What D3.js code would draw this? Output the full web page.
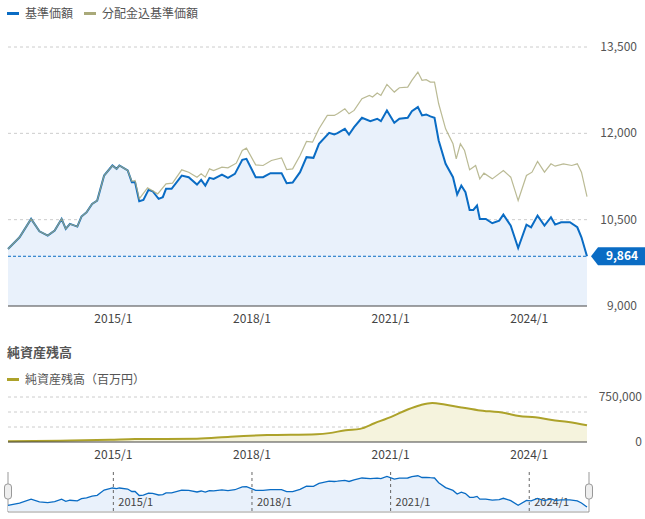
<!DOCTYPE html>
<html><head><meta charset="utf-8">
<script src="https://cdn.jsdelivr.net/npm/d3@7"></script>
<style>
body{margin:0;background:#fff;font-family:"Noto Sans CJK JP","Noto Sans",sans-serif;}
</style></head>
<body><svg id="chart" width="645" height="519"></svg>
<script>
// fund price (decimal year, yen)
const navYears = [2012.72,2012.97,2013.22,2013.40,2013.58,2013.73,2013.88,2013.97,2014.06,2014.22,2014.31,2014.42,2014.54,2014.65,2014.80,2014.98,2015.07,2015.13,2015.31,2015.40,2015.47,2015.56,2015.65,2015.76,2015.85,2015.98,2016.07,2016.14,2016.26,2016.48,2016.63,2016.81,2016.90,2016.99,2017.08,2017.17,2017.35,2017.48,2017.63,2017.79,2017.88,2018.08,2018.24,2018.40,2018.64,2018.75,2018.88,2019.04,2019.18,2019.33,2019.45,2019.67,2019.78,2019.85,2020.01,2020.10,2020.21,2020.38,2020.56,2020.71,2020.79,2020.92,2021.08,2021.19,2021.37,2021.46,2021.59,2021.68,2021.77,2021.86,2021.95,2022.04,2022.19,2022.35,2022.44,2022.53,2022.62,2022.71,2022.79,2022.87,2022.93,2023.06,2023.20,2023.35,2023.44,2023.60,2023.76,2023.94,2024.04,2024.18,2024.33,2024.47,2024.56,2024.69,2024.88,2025.04,2025.13,2025.25];
const navValues = [9991,10194,10513,10298,10223,10310,10513,10339,10426,10380,10554,10629,10774,10832,11267,11441,11383,11441,11354,11151,11151,10820,10844,11018,10994,10861,10890,11035,11035,11267,11238,11110,11192,11093,11226,11209,11284,11226,11296,11540,11557,11238,11238,11308,11308,11134,11145,11325,11586,11574,11818,12009,11980,12004,12079,11980,12108,12270,12212,12253,12212,12398,12183,12253,12270,12386,12456,12311,12328,12294,12270,11876,11470,11238,10936,11093,10977,10670,10670,10745,10513,10513,10438,10484,10588,10397,10008,10414,10368,10571,10397,10542,10414,10455,10455,10368,10194,9864];

// price incl. distributions
const totYears = [2012.72,2012.97,2013.22,2013.40,2013.58,2013.73,2013.88,2013.97,2014.06,2014.22,2014.31,2014.42,2014.54,2014.65,2014.80,2014.98,2015.07,2015.13,2015.31,2015.40,2015.47,2015.56,2015.74,2015.96,2016.14,2016.28,2016.48,2016.63,2016.81,2016.90,2016.99,2017.08,2017.17,2017.35,2017.48,2017.66,2017.79,2017.88,2018.08,2018.24,2018.42,2018.64,2018.75,2018.88,2019.04,2019.18,2019.31,2019.45,2019.63,2019.78,2019.85,2020.01,2020.10,2020.21,2020.38,2020.54,2020.61,2020.71,2020.79,2020.92,2021.08,2021.19,2021.37,2021.46,2021.59,2021.68,2021.77,2021.86,2021.95,2022.04,2022.19,2022.35,2022.42,2022.51,2022.60,2022.71,2022.84,2022.93,2023.02,2023.20,2023.44,2023.60,2023.76,2023.94,2024.06,2024.18,2024.33,2024.47,2024.56,2024.74,2024.92,2025.04,2025.13,2025.25];
const totValues = [9991,10194,10513,10298,10223,10310,10513,10339,10426,10380,10554,10629,10774,10832,11267,11441,11383,11441,11354,11165,11180,10861,11052,10948,11122,11134,11366,11325,11238,11296,11238,11383,11354,11412,11400,11482,11702,11743,11453,11441,11528,11574,11371,11383,11615,11859,11847,12079,12311,12311,12340,12427,12340,12398,12601,12659,12630,12700,12659,12850,12717,12792,12804,12920,13065,12920,12932,12891,12891,12514,12079,11818,11557,11818,11702,11366,11441,11209,11308,11209,11354,11238,10832,11267,11325,11511,11325,11470,11429,11470,11441,11470,11325,10902];

// net assets (million yen)
const assetYears = [2012.72,2013.86,2014.93,2015.47,2016.81,2017.53,2018.33,2019.40,2019.67,2020.03,2020.34,2020.65,2021.05,2021.37,2021.64,2021.90,2022.17,2022.53,2022.89,2023.47,2023.78,2024.13,2024.49,2024.85,2025.25];
const assetValues = [11000,22000,38000,49000,55000,88000,115000,131000,148000,197000,219000,312000,432000,542000,613000,651000,624000,575000,531000,482000,432000,411000,367000,334000,279000];

const xTicks = [2015, 2018, 2021, 2024];
const priceTicks = [9000, 10500, 12000, 13500];
const assetTicks = [0, 250000, 500000, 750000];
const lastValue = 9864;

const BLUE = "#0a6cc4", GOLD = "#a9a979", OLIVE = "#ada22a";
const svg = d3.select("#chart");
const x = d3.scaleLinear().domain([2012.72, 2025.25]).range([8, 587]);
const fmt = d3.format(",");

// legend
const leg = svg.append("g").style("font-size", "12px").style("fill", "#555");
leg.append("rect").attr("x", 7).attr("y", 12).attr("width", 12).attr("height", 3).attr("fill", BLUE);
leg.append("text").attr("x", 25).attr("y", 18).text("基準価額");
leg.append("rect").attr("x", 84).attr("y", 12).attr("width", 12).attr("height", 3).attr("fill", GOLD);
leg.append("text").attr("x", 102).attr("y", 18).text("分配金込基準価額");

// main chart
const y = d3.scaleLinear().domain([9000, 13500]).range([306, 47]);
svg.selectAll(".pg").data(priceTicks.slice(1)).join("line")
  .attr("x1", 8).attr("x2", 587).attr("y1", d => y(d)).attr("y2", d => y(d))
  .attr("stroke", "#ccc").attr("stroke-dasharray", "3,3");
svg.selectAll(".pl").data(priceTicks).join("text")
  .attr("x", 637).attr("y", d => y(d) + 4).attr("text-anchor", "end")
  .style("font-size", "12px").style("fill", "#555").text(d => fmt(d));

const navData = navYears.map((t, i) => [t, navValues[i]]);
const totData = totYears.map((t, i) => [t, totValues[i]]);
svg.append("path").datum(navData).attr("fill", "#e9f1fb")
  .attr("d", d3.area().x(d => x(d[0])).y0(306).y1(d => y(d[1])));
svg.append("path").datum(navData).attr("fill", "none").attr("stroke", BLUE).attr("stroke-width", 2)
  .attr("d", d3.line().x(d => x(d[0])).y(d => y(d[1])));
// gold drawn on top, where both overlap the line looks grey-teal
svg.append("path").datum(totData).attr("fill", "none").attr("stroke", GOLD).attr("stroke-width", 1.2)
  .attr("stroke-opacity", 0.8)
  .attr("d", d3.line().x(d => x(d[0])).y(d => y(d[1])));
svg.append("line").attr("x1", 8).attr("x2", 587).attr("y1", 306).attr("y2", 306).attr("stroke", "#444");
svg.append("line").attr("x1", 8).attr("x2", 587).attr("y1", y(lastValue)).attr("y2", y(lastValue))
  .attr("stroke", BLUE).attr("stroke-dasharray", "3,2");
const ly = y(lastValue);
svg.append("path").attr("fill", BLUE)
  .attr("d", `M591,${ly} L598,${ly - 9} L645,${ly - 9} L645,${ly + 9} L598,${ly + 9} Z`);
svg.append("text").attr("x", 622).attr("y", ly + 4).attr("text-anchor", "middle")
  .style("font-size", "12px").style("font-weight", "bold").style("fill", "#fff").text(fmt(lastValue));
svg.selectAll(".xl").data(xTicks).join("text")
  .attr("x", d => x(d)).attr("y", 323).attr("text-anchor", "middle")
  .style("font-size", "12px").style("fill", "#444").text(d => d + "/1");

// net assets
svg.append("text").attr("x", 7).attr("y", 357).style("font-size", "13px").style("font-weight", "bold")
  .style("fill", "#555").text("純資産残高");
svg.append("rect").attr("x", 7).attr("y", 378).attr("width", 12).attr("height", 3).attr("fill", OLIVE);
svg.append("text").attr("x", 25).attr("y", 384).style("font-size", "12px").style("fill", "#555").text("純資産残高（百万円）");
const ya = d3.scaleLinear().domain([0, 750000]).range([442, 397]);
svg.selectAll(".ag").data(assetTicks.slice(1)).join("line")
  .attr("x1", 8).attr("x2", 587).attr("y1", d => ya(d)).attr("y2", d => ya(d))
  .attr("stroke", "#ccc").attr("stroke-dasharray", "3,3");
svg.selectAll(".al").data([0, 750000]).join("text")
  .attr("x", 642).attr("y", d => ya(d) + 4).attr("text-anchor", "end")
  .style("font-size", "12px").style("fill", "#555").text(d => fmt(d));
const assetData = assetYears.map((t, i) => [t, assetValues[i]]);
svg.append("path").datum(assetData).attr("fill", "#f5f3dd")
  .attr("d", d3.area().curve(d3.curveMonotoneX).x(d => x(d[0])).y0(442).y1(d => ya(d[1])));
svg.append("path").datum(assetData).attr("fill", "none").attr("stroke", OLIVE).attr("stroke-width", 2)
  .attr("d", d3.line().curve(d3.curveMonotoneX).x(d => x(d[0])).y(d => ya(d[1])));
svg.append("line").attr("x1", 8).attr("x2", 587).attr("y1", 442).attr("y2", 442).attr("stroke", "#444");
svg.selectAll(".xl2").data(xTicks).join("text")
  .attr("x", d => x(d)).attr("y", 459).attr("text-anchor", "middle")
  .style("font-size", "12px").style("fill", "#444").text(d => d + "/1");

// navigator
const yn = d3.scaleLinear().domain([9700, 12600]).range([509, 474]);
svg.append("line").attr("x1", 8).attr("x2", 589).attr("y1", 512).attr("y2", 512).attr("stroke", "#999");
svg.append("line").attr("x1", 8).attr("x2", 8).attr("y1", 472).attr("y2", 512).attr("stroke", "#999");
svg.append("line").attr("x1", 589).attr("x2", 589).attr("y1", 472).attr("y2", 512).attr("stroke", "#999");
svg.append("path").datum(navData).attr("fill", "#e9f1fb")
  .attr("d", d3.area().x(d => x(d[0])).y0(511).y1(d => yn(d[1])));
svg.selectAll(".nv").data(xTicks).join("line")
  .attr("x1", d => x(d)).attr("x2", d => x(d)).attr("y1", 472).attr("y2", 512)
  .attr("stroke", "#666").attr("stroke-dasharray", "3,3");
svg.selectAll(".nl").data(xTicks).join("text")
  .attr("x", d => x(d) + 5).attr("y", 506)
  .style("font-size", "11px").style("fill", "#444").text(d => d + "/1");
svg.append("path").datum(navData).attr("fill", "none").attr("stroke", BLUE).attr("stroke-width", 1.3)
  .attr("d", d3.line().x(d => x(d[0])).y(d => yn(d[1])));
[8, 589].forEach(hx => {
  svg.append("rect").attr("x", hx - 3.5).attr("y", 484).attr("width", 7).attr("height", 15).attr("rx", 3)
    .attr("fill", "#eee").attr("stroke", "#999");
});
</script></body></html>
